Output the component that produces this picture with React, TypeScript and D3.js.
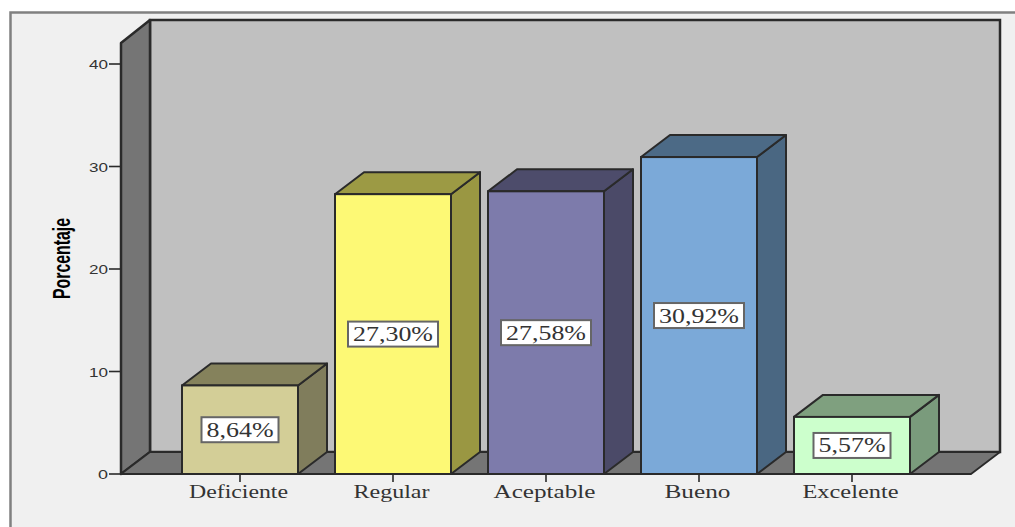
import React from "react";
import * as d3 from "d3";

const categories = ["Deficiente", "Regular", "Aceptable", "Bueno", "Excelente"];
const values = [8.64, 27.3, 27.58, 30.92, 5.57];
const valueLabels = ["8,64%", "27,30%", "27,58%", "30,92%", "5,57%"];
const frontColors = ["#d3ce97", "#fdf975", "#7d7bab", "#7ba9d8", "#ccffcc"];
const sideColors = ["#807d5c", "#9a9742", "#4b4a68", "#4a6782", "#7a9b7c"];
const topColors = ["#85825c", "#9c9a44", "#4d4c6b", "#4c6a86", "#7fa07f"];
const yTicks = [0, 10, 20, 30, 40];
const labelWidths = [99, 76, 102, 66, 96];

const W = 1015, H = 527;
const DX = 29, DY = 22;
const x0 = 121, x1 = 971, yBase = 474, yTopFront = 43;
const edge = "#2a2a2a";

const y = d3.scaleLinear().domain([0, 40]).range([474, 64]);
const x = d3.scaleBand<string>().domain(categories).range([163.5, 928.5]).paddingInner(37 / 153).paddingOuter(18.5 / 153);

const poly = (pts: [number, number][]) => d3.line()(pts)! + "Z";

export default function App() {
  return (
    <svg width={W} height={H} viewBox={`0 0 ${W} ${H}`} style={{ position: "absolute", left: 0, top: 0, display: "block" }}>
      <rect x={0} y={0} width={W} height={H} fill="#ffffff" />
      <rect x={10.5} y={12.5} width={W + 10} height={H + 10} fill="#f0f0f0" stroke="#808080" strokeWidth={2.5} />
      {/* back wall */}
      <rect x={x0 + DX} y={yTopFront - DY - 1} width={x1 - x0} height={yBase - yTopFront + 1} fill="#c0c0c0" stroke={edge} strokeWidth={2.5} />
      {/* left wall */}
      <path d={poly([[x0, yTopFront], [x0 + DX, yTopFront - DY - 1], [x0 + DX, yBase - DY], [x0, yBase]])} fill="#757575" stroke={edge} strokeWidth={2.5} strokeLinejoin="round" />
      {/* floor */}
      <path d={poly([[x0, yBase], [x0 + DX, yBase - DY], [x1 + DX, yBase - DY], [x1, yBase]])} fill="#757575" stroke={edge} strokeWidth={1.8} strokeLinejoin="round" />

      {yTicks.map((t) => (
        <g key={t}>
          <line x1={x0 - 12} x2={x0} y1={y(t)} y2={y(t)} stroke={edge} strokeWidth={1.6} />
          <text x={108} y={y(t) + 5} textAnchor="end" fontFamily="'Liberation Sans', sans-serif" fontSize={13} fill="#333"
            textLength={t === 0 ? 10 : 19} lengthAdjust="spacingAndGlyphs">{t}</text>
        </g>
      ))}
      <text transform="translate(70,258.5) rotate(-90)" textAnchor="middle" fontFamily="'Liberation Sans', sans-serif" fontWeight="bold" fontSize={24} fill="#000"
        textLength={81} lengthAdjust="spacingAndGlyphs">Porcentaje</text>

      {categories.map((c, i) => {
        const bx = x(c)!, bw = x.bandwidth(), by = y(values[i]);
        const cx = bx + bw / 2;
        const boxW = valueLabels[i].length === 5 ? 77 : 90;
        const textW = boxW - 10;
        const my = (by + yBase) / 2;
        return (
          <g key={c}>
            <path d={poly([[bx + bw, by], [bx + bw + DX, by - DY], [bx + bw + DX, yBase - DY], [bx + bw, yBase]])} fill={sideColors[i]} stroke={edge} strokeWidth={2} strokeLinejoin="round" />
            <path d={poly([[bx, by], [bx + DX, by - DY], [bx + bw + DX, by - DY], [bx + bw, by]])} fill={topColors[i]} stroke={edge} strokeWidth={2} strokeLinejoin="round" />
            <rect x={bx} y={by} width={bw} height={yBase - by} fill={frontColors[i]} stroke={edge} strokeWidth={2} />
            <line x1={cx} x2={cx} y1={yBase} y2={yBase + 8} stroke={edge} strokeWidth={1.6} />
            <text x={cx - 1.5} y={yBase + 24} textAnchor="middle" fontFamily="'Liberation Serif', serif" fontSize={18} fill="#333"
              textLength={labelWidths[i]} lengthAdjust="spacingAndGlyphs">{c}</text>
            <rect x={cx - boxW / 2} y={my - 12.5} width={boxW} height={25} fill="#ffffff" stroke="#666" strokeWidth={2} />
            <text x={cx} y={my + 7} textAnchor="middle" fontFamily="'Liberation Serif', serif" fontSize={20} fill="#333"
              textLength={textW} lengthAdjust="spacingAndGlyphs">{valueLabels[i]}</text>
          </g>
        );
      })}
    </svg>
  );
}
